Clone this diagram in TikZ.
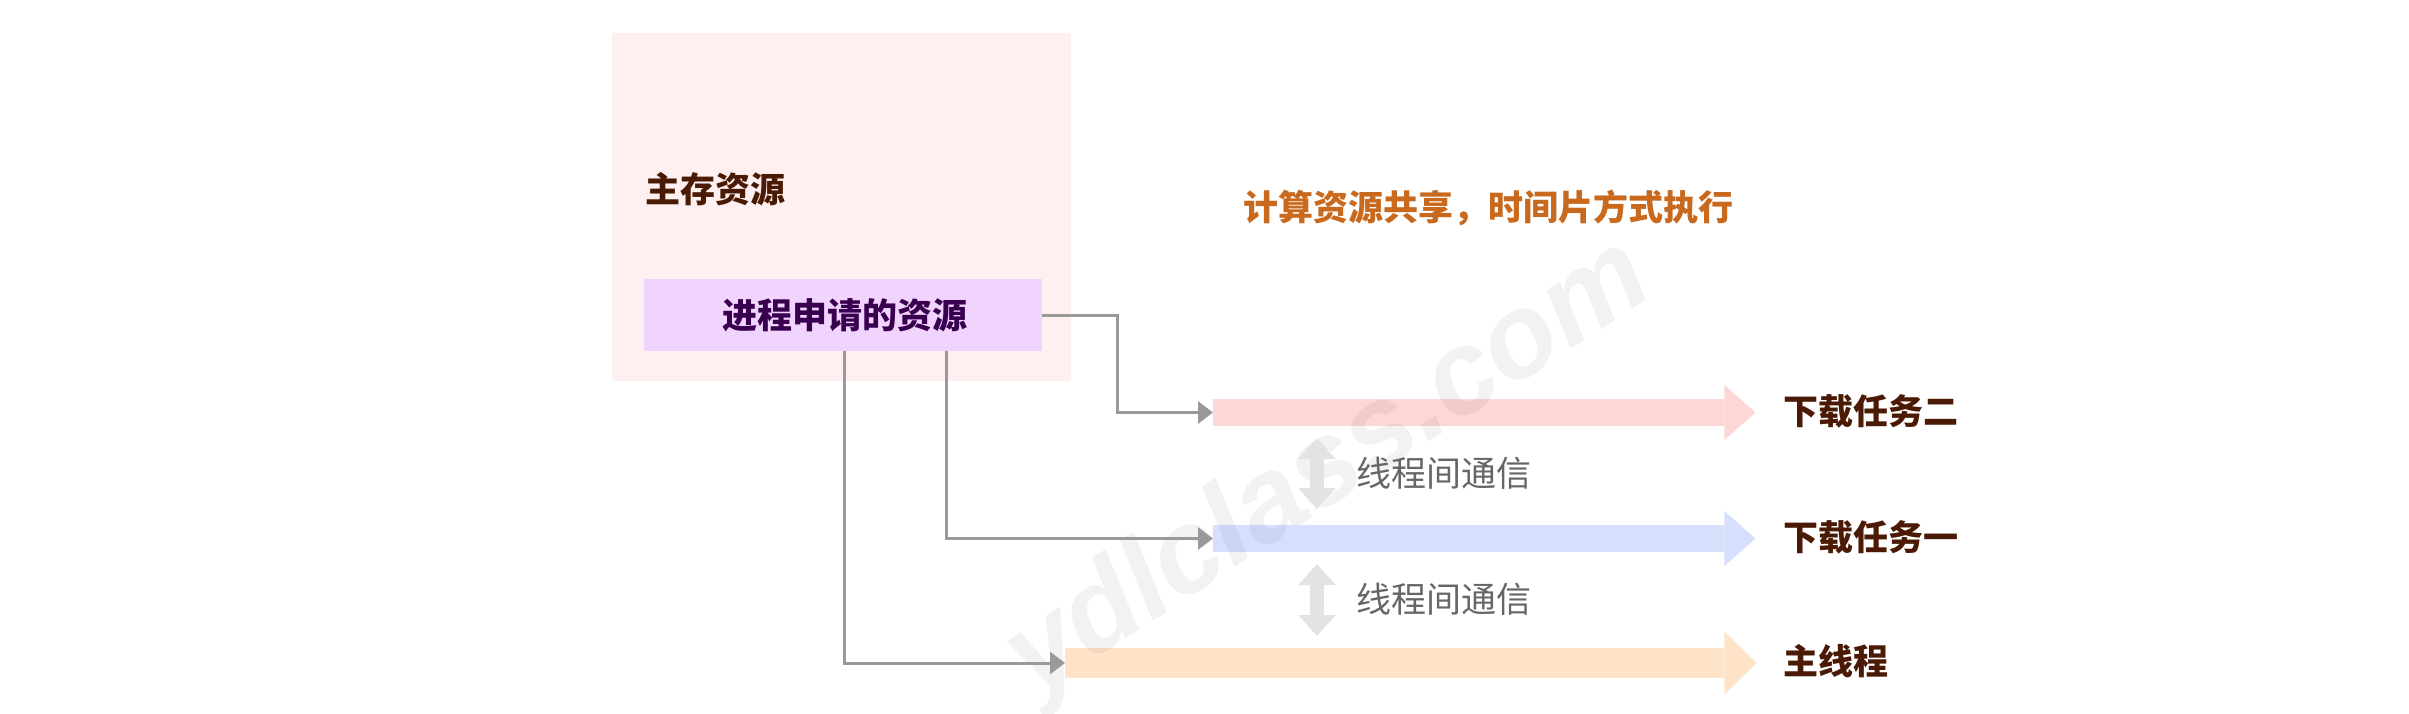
\documentclass[tikz,border=0pt]{standalone}
\usepackage{fontspec}
\newfontfamily\cjk{Noto Sans CJK SC}
\newfontfamily\wmfont{Liberation Sans}
\usetikzlibrary{arrows.meta}
\definecolor{outerbg}{HTML}{FEF0F0}
\definecolor{innerbg}{HTML}{F0D4FE}
\definecolor{pinkbar}{HTML}{FDD6D6}
\definecolor{bluebar}{HTML}{D6E0FD}
\definecolor{orangebar}{HTML}{FEE3C8}
\definecolor{connc}{HTML}{999999}
\definecolor{commc}{HTML}{E3E3E3}
\definecolor{labelc}{HTML}{4A1A05}
\definecolor{innertext}{HTML}{3A0050}
\definecolor{titlec}{HTML}{C8691E}
\definecolor{graytext}{HTML}{666666}
\tikzset{
  x=1pt, y=-1pt,
  txt/.style={inner sep=0pt, font=\cjk\fontsize{35pt}{40pt}\selectfont},
  btxt/.style={txt, font=\cjk\bfseries\fontsize{35pt}{40pt}\selectfont},
  conn/.style={draw=connc, line width=3pt, -{Triangle[length=15pt,width=22pt]}},
  comm/.style={draw=commc, line width=14pt, {Triangle[length=21pt,width=36pt]}-{Triangle[length=21pt,width=36pt]}},
  bar/.style={inner sep=0pt, anchor=west, minimum width=#1},
}
\begin{document}
\begin{tikzpicture}
\useasboundingbox (0,0) rectangle (2409,714);
\fill[white] (0,0) rectangle (2409,714);
% outer box
\node[fill=outerbg, inner sep=0pt, minimum width=459pt, minimum height=348pt] (outer) at (841.5,207) {};
\node[btxt, text=labelc, anchor=west] (mem) at (645,189) {主存资源};
\node[fill=innerbg, inner sep=0pt, minimum width=398pt, minimum height=72pt] (inner) at (843,315) {};
\node[btxt, text=innertext] (innerlbl) at (845,315) {进程申请的资源};
% title
\node[btxt, text=titlec, anchor=west] (title) at (1243,207.5) {计算资源共享，时间片方式执行};
% bars
\node[bar=511pt, fill=pinkbar, minimum height=27pt] (t2) at (1213,412.5) {};
\fill[pinkbar] (t2.east) ++(0,-27.5) -- ++(31,27.5) -- ++(-31,27.5) -- cycle;
\node[bar=511pt, fill=bluebar, minimum height=27pt] (t1) at (1213,538.5) {};
\fill[bluebar] (t1.east) ++(0,-27.5) -- ++(31,27.5) -- ++(-31,27.5) -- cycle;
\node[bar=659pt, fill=orangebar, minimum height=30pt] (tm) at (1065,663) {};
\fill[orangebar] (tm.east) ++(0,-31.5) -- ++(32,31.5) -- ++(-32,31.5) -- cycle;
% watermark
\node[rotate=33, font=\wmfont\bfseries\itshape\fontsize{118pt}{120pt}\selectfont, text=black, opacity=0.05] (wm) at (1330,470) {ydlclass.com};
% labels
\node[btxt, text=labelc, anchor=west] (l2) at (1783,411) {下载任务二};
\node[btxt, text=labelc, anchor=west] (l1) at (1783,537) {下载任务一};
\node[btxt, text=labelc, anchor=west] (lm) at (1783,661) {主线程};
% communication
\coordinate (c1a) at (1317,438);
\coordinate (c1b) at (1317,509);
\coordinate (c2a) at (1317,564);
\coordinate (c2b) at (1317,636);
\draw[comm] (c1a) -- (c1b);
\draw[comm] (c2a) -- (c2b);
\node[txt, text=graytext, anchor=west] (m1) at (1356,473) {线程间通信};
\node[txt, text=graytext, anchor=west] (m2) at (1356,599) {线程间通信};
% connectors
\draw[conn] (inner.east) -- ++(75,0) |- (t2.west);
\draw[conn] ([xshift=103pt]inner.south) |- (t1.west);
\draw[conn] ([xshift=1pt]inner.south) |- (tm.west);
\end{tikzpicture}
\end{document}
